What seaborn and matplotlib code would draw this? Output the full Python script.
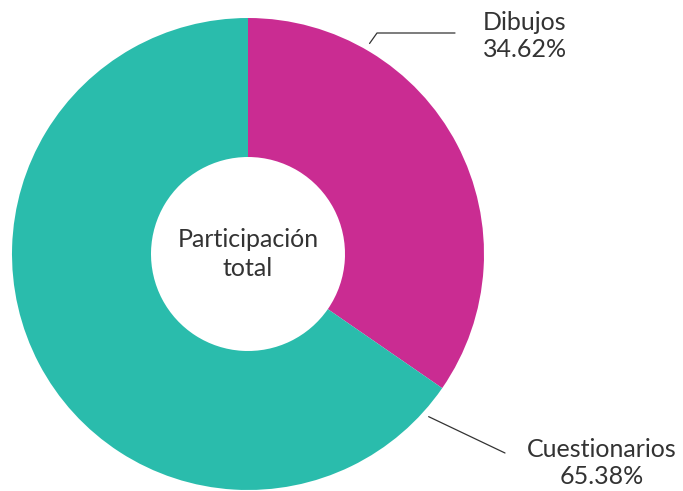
import numpy as np
import matplotlib
matplotlib.use("Agg")
import matplotlib.pyplot as plt
import seaborn as sns

# data
categories = ["Dibujos", "Cuestionarios"]
shares = [34.62, 65.38]
colors = ["#CA2C92", "#2ABCAC"]
center_label = "Participación\ntotal"

sns.set_theme(style="white")
plt.rcParams["font.family"] = ["Lato", "DejaVu Sans"]

fig = plt.figure(figsize=(6.83, 4.91), dpi=100)
ax = fig.add_axes([0, 0, 1, 1])
ax.set_aspect("equal")
ax.axis("off")

cx, cy, r = 248, 237, 236
wedges, _ = ax.pie(shares, colors=colors, startangle=90, counterclock=False,
                   center=(cx, cy), radius=r,
                   wedgeprops=dict(width=r - 97, linewidth=0))
ax.set_xlim(0, 683)
ax.set_ylim(0, 491)

txt = dict(fontsize=18, fontweight="normal", color="#333333")
ax.text(cx, cy, center_label, ha="center", va="center",
        linespacing=1.3, **txt)

# leader lines and labels
ann = [
    # angle on ring, elbow, end of line, label pos
    (60, (377, 458), (455, 458), (525, 455)),
    (-42, None, (505, 38), (602, 28)),
]
for (ang, elbow, end, lab), name, val in zip(ann, categories, shares):
    a = np.deg2rad(ang)
    sx, sy = cx + 1.03 * r * np.cos(a), cy + 1.03 * r * np.sin(a)
    pts = [(sx, sy)] + ([elbow] if elbow else []) + [end]
    xs, ys = zip(*pts)
    ax.plot(xs, ys, color="#333333", lw=0.9)
    ax.text(lab[0], lab[1], f"{name}\n{val:.2f}%", ha="center", va="center",
            linespacing=1.25, **txt)

fig.savefig("out.png", dpi=100)
